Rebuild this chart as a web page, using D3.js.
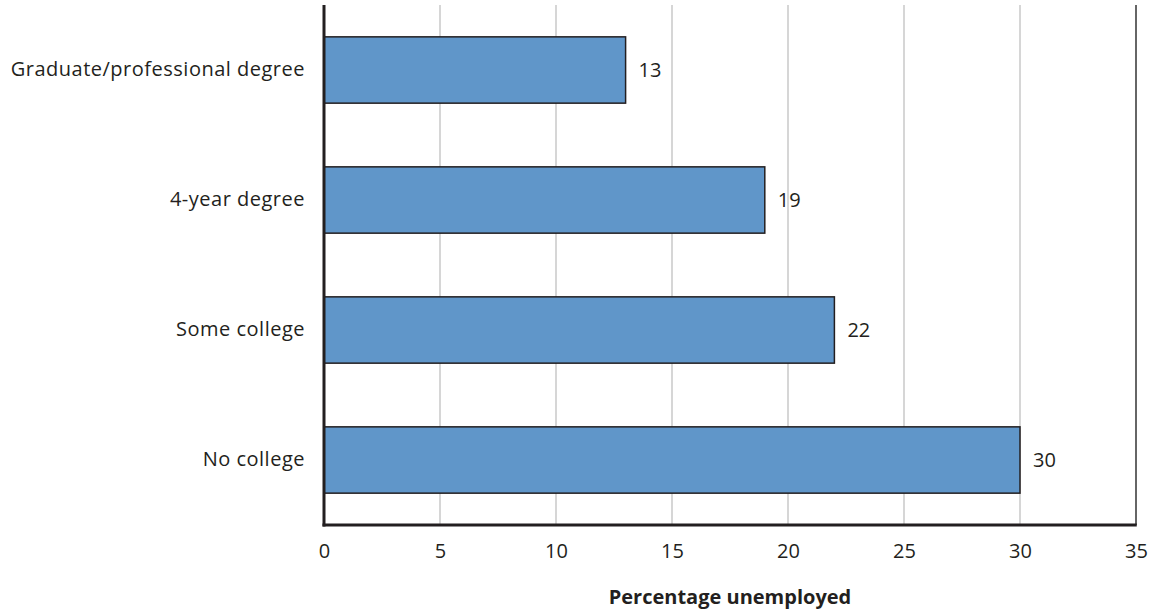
<!DOCTYPE html>
<html>
<head>
<meta charset="utf-8">
<script src="https://cdn.jsdelivr.net/npm/d3@7"></script>
<style>
  html, body { margin: 0; padding: 0; background: #fff; }
  svg { display: block; font-family: "Open Sans", "Noto Sans", sans-serif; }
</style>
</head>
<body>
<svg id="chart" width="1156" height="612"></svg>
<script>
const categories = ["Graduate/professional degree", "4-year degree", "Some college", "No college"];
const values = [13, 19, 22, 30];
const tickValues = [0, 5, 10, 15, 20, 25, 30, 35];
const axisTitle = "Percentage unemployed";

const svg = d3.select("#chart");
const margin = { left: 324, right: 20, top: 5, bottom: 87 };
const W = 1156, H = 612;
const FS = 20;
const x = d3.scaleLinear().domain([0, 35]).range([margin.left, W - margin.right]);
const y = d3.scaleBand().domain(categories).range([margin.top, H - margin.bottom])
  .paddingInner(0.49).paddingOuter(0.245);

const y0 = margin.top, y1 = H - margin.bottom;

// grid lines
svg.append("g").selectAll("line").data(tickValues.filter(d => d > 0 && d < 35)).join("line")
  .attr("x1", d => x(d)).attr("x2", d => x(d))
  .attr("y1", y0).attr("y2", y1)
  .attr("stroke", "#adadad").attr("stroke-width", 1);

// right border
svg.append("line").attr("x1", x(35)).attr("x2", x(35)).attr("y1", y0).attr("y2", y1)
  .attr("stroke", "#333").attr("stroke-width", 1.5);

// bars
svg.append("g").selectAll("rect").data(values).join("rect")
  .attr("x", x(0))
  .attr("y", (d, i) => y(categories[i]))
  .attr("width", d => x(d) - x(0))
  .attr("height", y.bandwidth())
  .attr("fill", "#6096c9")
  .attr("stroke", "#231f20").attr("stroke-width", 1.5);

// value labels
svg.append("g").selectAll("text").data(values).join("text")
  .attr("x", d => x(d) + 13)
  .attr("y", (d, i) => y(categories[i]) + y.bandwidth() / 2)
  .attr("dy", "0.35em")
  .attr("font-size", FS).attr("fill", "#231f20")
  .text(d => d);

// axes lines
svg.append("line").attr("x1", x(0)).attr("x2", x(0)).attr("y1", y0).attr("y2", y1 + 1.5)
  .attr("stroke", "#231f20").attr("stroke-width", 3);
svg.append("line").attr("x1", x(0) - 1.5).attr("x2", x(35) + 0.75).attr("y1", y1).attr("y2", y1)
  .attr("stroke", "#231f20").attr("stroke-width", 3);

// x axis tick labels
const xAxis = d3.axisBottom(x).tickValues(tickValues).tickSize(0).tickPadding(0);
const gx = svg.append("g").attr("transform", `translate(0,${y1 + 19})`).call(xAxis);
gx.select(".domain").remove();
gx.selectAll("text").attr("font-size", FS).attr("fill", "#231f20")
  .attr("font-family", "\"Open Sans\", \"Noto Sans\", sans-serif");

// y axis labels
const yAxis = d3.axisLeft(y).tickSize(0).tickPadding(19);
const gy = svg.append("g").attr("transform", `translate(${x(0)},0)`).call(yAxis);
gy.select(".domain").remove();
gy.selectAll("text").attr("font-size", FS).attr("fill", "#231f20")
  .attr("letter-spacing", "0.5px")
  .attr("font-family", "\"Open Sans\", \"Noto Sans\", sans-serif");

// axis title
svg.append("text")
  .attr("x", (x(0) + x(35)) / 2).attr("y", 597).attr("dy", "0.35em")
  .attr("text-anchor", "middle").attr("font-size", FS).attr("font-weight", "bold")
  .attr("fill", "#231f20")
  .text(axisTitle);
</script>
</body>
</html>
